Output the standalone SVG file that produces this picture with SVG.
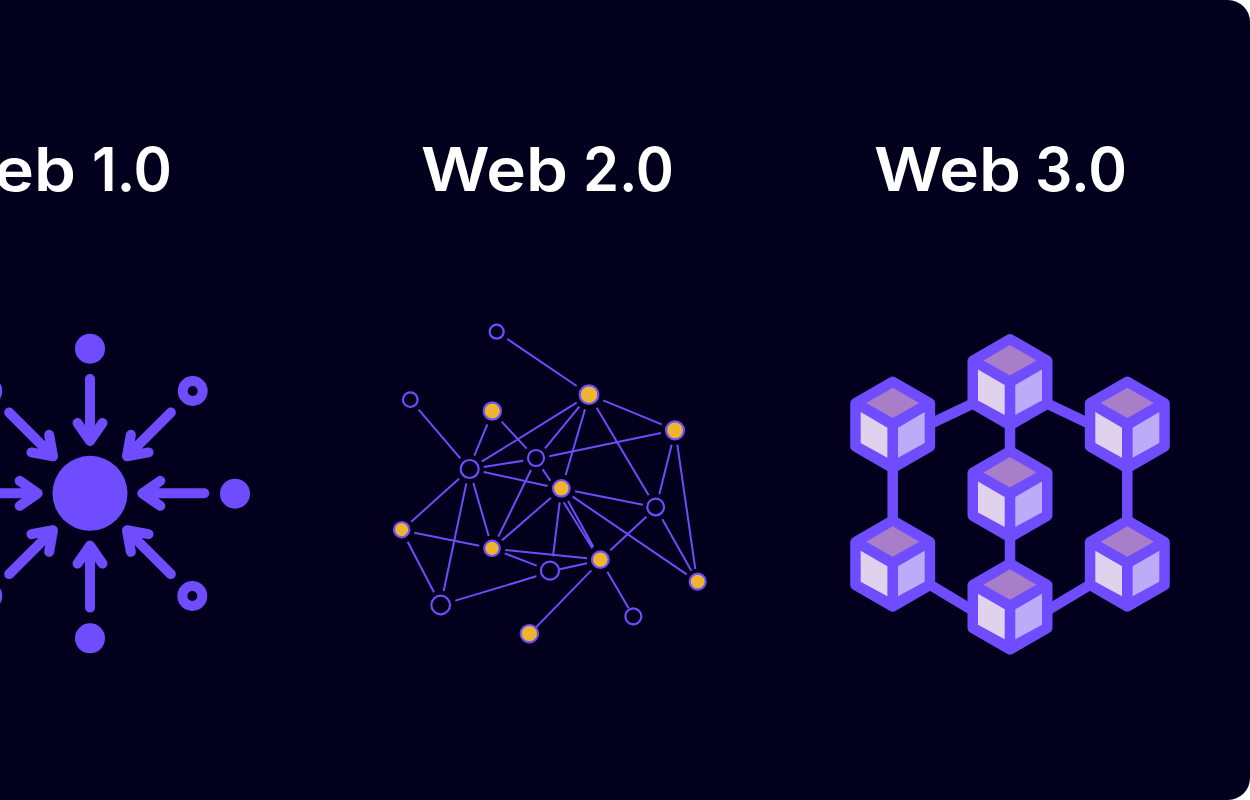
<svg xmlns="http://www.w3.org/2000/svg" width="1250" height="800" viewBox="0 0 1250 800">
<style>
.t{font-family:Inter,"Noto Sans","Liberation Sans",sans-serif;font-weight:600;font-size:60px;fill:#fff}
.p{fill:#704cff}
.ring{fill:none;stroke:#704cff;stroke-width:10}
.arrow{fill:none;stroke:#704cff;stroke-width:10;stroke-linecap:round;stroke-linejoin:round}
.edge{stroke:#6f4bfa;stroke-width:6;fill:none}
.o{fill:none;stroke:#704cff;stroke-width:6.500}
.g{fill:#eeb52f;stroke:#704cff;stroke-width:6.500}
.link{stroke:#704cff;stroke-width:10.500;fill:none}
.hex{fill:#704cff;stroke:#704cff;stroke-width:10.500;stroke-linejoin:round}
</style>
<defs>
<g id="arr"><path class="arrow" d="M90 379V439M77.500 423L90 441L102.500 423"/></g>
<g id="cube">
<path class="hex" d="M0-43L37.240-21.500V21.500L0 43L-37.240 21.500V-21.500Z"/>
<path fill="#a97ec8" d="M0-37.200L26.500-21.800L0-6.800L-26.500-21.800Z"/>
<path fill="#e0d2ec" d="M-32-12.800L-5.300 2.800V32.800L-32 18.200Z"/>
<path fill="#bbabf8" d="M32-12.800L5.300 2.800V32.800L32 18.200Z"/>
</g>
</defs>
<rect id="corners" width="1250" height="800" fill="#fff"/>
<path id="panel" fill="#02001c" d="M0 0H1228A22 22 0 0 1 1250 22V778A22 22 0 0 1 1228 800H0Z"/>
<text id="title1" class="t" y="191"><tspan x="-71" textLength="147" lengthAdjust="spacingAndGlyphs">Web</tspan> <tspan x="92" textLength="80" lengthAdjust="spacingAndGlyphs">1.0</tspan></text>
<text id="title2" class="t" y="191"><tspan x="421" textLength="147" lengthAdjust="spacingAndGlyphs">Web</tspan> <tspan x="583" textLength="91" lengthAdjust="spacingAndGlyphs">2.0</tspan></text>
<text id="title3" class="t" y="191"><tspan x="874" textLength="147" lengthAdjust="spacingAndGlyphs">Web</tspan> <tspan x="1035" textLength="92" lengthAdjust="spacingAndGlyphs">3.0</tspan></text>

<g id="web1-connectors">
<use href="#arr" transform="rotate(0 90 493.300)"/>
<use href="#arr" transform="rotate(45 90 493.300)"/>
<use href="#arr" transform="rotate(90 90 493.300)"/>
<use href="#arr" transform="rotate(135 90 493.300)"/>
<use href="#arr" transform="rotate(180 90 493.300)"/>
<use href="#arr" transform="rotate(225 90 493.300)"/>
<use href="#arr" transform="rotate(270 90 493.300)"/>
<use href="#arr" transform="rotate(315 90 493.300)"/>
</g>
<g id="hub"><circle class="p" cx="90" cy="493.300" r="37.500"/></g>
<g id="s-top"><circle class="p" cx="90" cy="348.700" r="15"/></g>
<g id="s-right"><circle class="p" cx="235" cy="493.700" r="15"/></g>
<g id="s-bottom"><circle class="p" cx="90" cy="638.300" r="15"/></g>
<g id="s-tr"><circle class="ring" cx="192.700" cy="391" r="10"/></g>
<g id="s-br"><circle class="ring" cx="192.300" cy="596" r="10"/></g>
<g id="s-tl"><circle class="ring" cx="-12.700" cy="391" r="10"/></g>
<g id="s-bl"><circle class="ring" cx="-12.700" cy="596" r="10"/></g>

<g transform="translate(380 315) scale(.33333)">
<g id="web2-connectors">
<path class="edge" d="M382 72L590 213M116 284L241 430M322 328L283 422M365 320L440 401M305 440L590 263M495 400L598 275M557 480L615 283M670 256L845 328M650 278L806 541M508 424L843 354M311 456L430 437M311 471L503 513M488 463L511 497M453 465L355 665M237 491L94 620M259 505L191 828M280 504L326 663M513 548L366 676M539 562L519 724M551 562L637 700M564 558L640 695M585 529L789 569M578 545L920 778M875 389L838 538M892 389L946 762M799 605L691 706M847 613L934 767M103 653L298 692M83 680L162 832M376 705L621 730M374 715L470 752M539 763L621 745M469 784L226 857M634 766L468 937M682 770L746 880"/>
</g>
<g id="n-a"><circle class="o" cx="350" cy="50" r="21"/></g>
<g id="n-b"><circle class="g" cx="627" cy="239" r="28"/></g>
<g id="n-c"><circle class="o" cx="91" cy="254" r="22"/></g>
<g id="n-d"><circle class="g" cx="337" cy="288" r="26"/></g>
<g id="n-e"><circle class="g" cx="885" cy="346" r="27"/></g>
<g id="n-f"><circle class="o" cx="269" cy="462" r="27"/></g>
<g id="n-g"><circle class="o" cx="468" cy="429" r="24"/></g>
<g id="n-h"><circle class="g" cx="544" cy="520" r="25"/></g>
<g id="n-i"><circle class="o" cx="827" cy="576" r="25"/></g>
<g id="n-j"><circle class="g" cx="65" cy="644" r="23"/></g>
<g id="n-k"><circle class="g" cx="336" cy="700" r="23"/></g>
<g id="n-l"><circle class="o" cx="510" cy="767" r="27"/></g>
<g id="n-m"><circle class="g" cx="661" cy="734" r="25"/></g>
<g id="n-n"><circle class="g" cx="953" cy="800" r="24"/></g>
<g id="n-o"><circle class="o" cx="182" cy="870" r="28"/></g>
<g id="n-p"><circle class="o" cx="760" cy="904" r="24"/></g>
<g id="n-q"><circle class="g" cx="448" cy="956" r="26"/></g>
</g>

<g id="web3-connectors">
<path class="link" d="M930 424L972 404M1090 424L1048 404M892.700 450V540M1127.300 450V540M1010 410V460M1010 520V580M930 584.700L972 610M1090 584.700L1048 610"/>
</g>
<g id="c-top"><use href="#cube" x="1010" y="382.200"/></g>
<g id="c-left"><use href="#cube" x="892.700" y="424.900"/></g>
<g id="c-right"><use href="#cube" x="1127.300" y="424.900"/></g>
<g id="c-mid"><use href="#cube" x="1010" y="494.200"/></g>
<g id="c-bl"><use href="#cube" x="892.700" y="563.500"/></g>
<g id="c-br"><use href="#cube" x="1127.300" y="563.500"/></g>
<g id="c-bot"><use href="#cube" x="1010" y="606.500"/></g>
</svg>
